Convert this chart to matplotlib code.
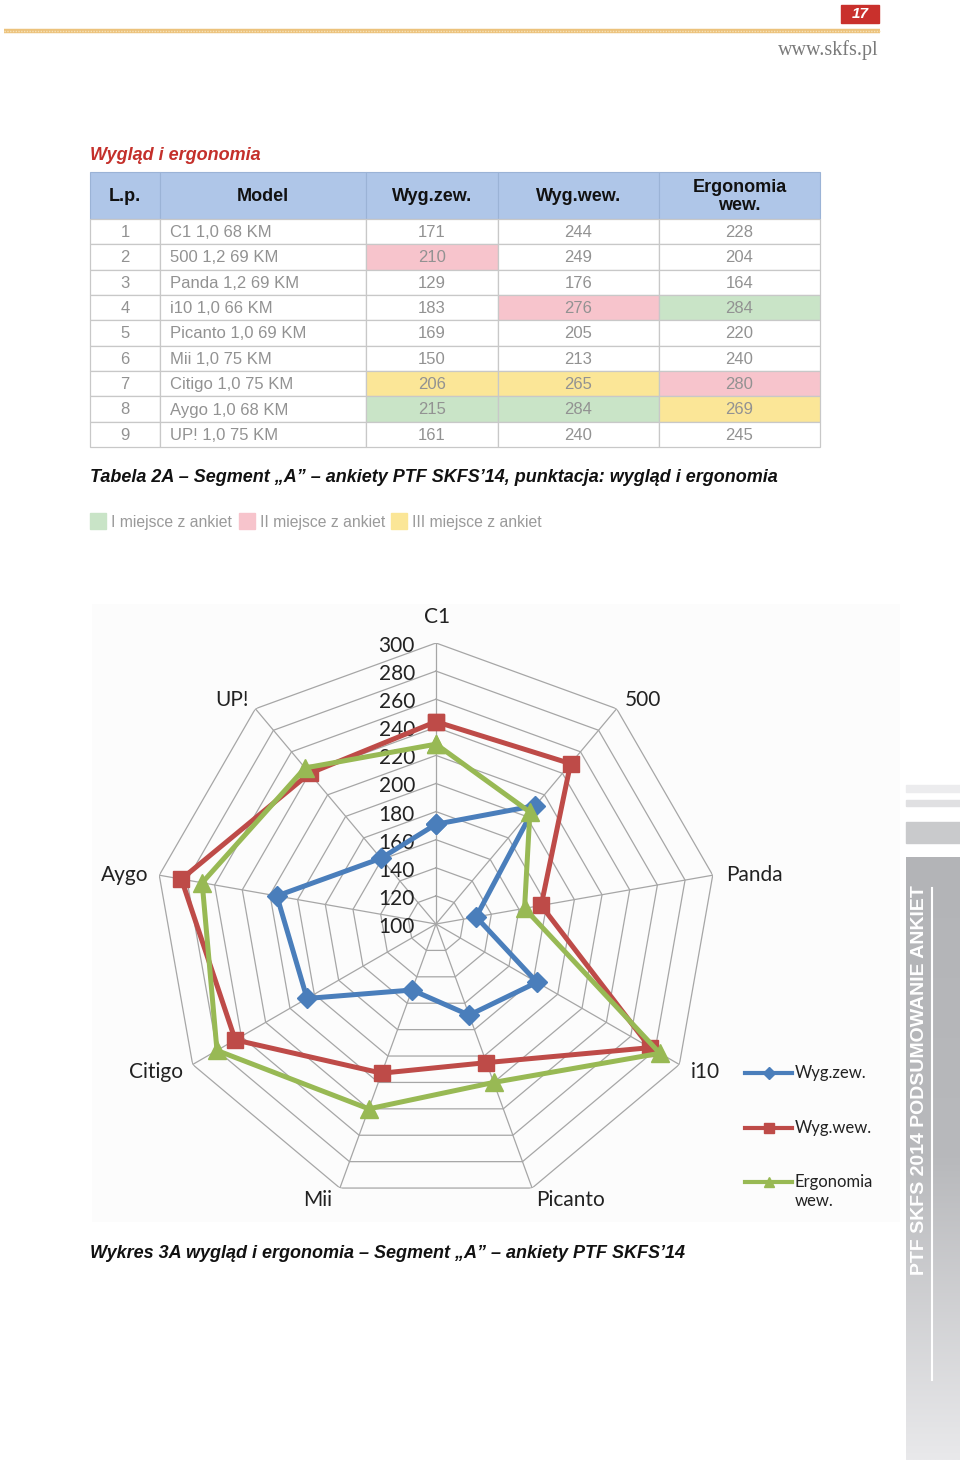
import numpy as np
import matplotlib
matplotlib.use("Agg")
import matplotlib.pyplot as plt
from matplotlib.patches import Rectangle
from matplotlib.colors import LinearSegmentedColormap

# ---------------- data ----------------
lp = [1, 2, 3, 4, 5, 6, 7, 8, 9]
models = ["C1 1,0 68 KM", "500 1,2 69 KM", "Panda 1,2 69 KM", "i10 1,0 66 KM",
          "Picanto 1,0 69 KM", "Mii 1,0 75 KM", "Citigo 1,0 75 KM",
          "Aygo 1,0 68 KM", "UP! 1,0 75 KM"]
categories = ["C1", "500", "Panda", "i10", "Picanto", "Mii", "Citigo", "Aygo", "UP!"]
wyg_zew = [171, 210, 129, 183, 169, 150, 206, 215, 161]
wyg_wew = [244, 249, 176, 276, 205, 213, 265, 284, 240]
ergonomia = [228, 204, 164, 284, 220, 240, 280, 269, 245]
# place highlight per column: g = I, p = II, y = III
hl_zew = ["", "p", "", "", "", "", "y", "g", ""]
hl_wew = ["", "", "", "p", "", "", "y", "g", ""]
hl_erg = ["", "", "", "g", "", "", "p", "y", ""]
headers = ["L.p.", "Model", "Wyg.zew.", "Wyg.wew.", "Ergonomia\nwew."]
series_names = ["Wyg.zew.", "Wyg.wew.", "Ergonomia\nwew."]
r_ticks = [100, 120, 140, 160, 180, 200, 220, 240, 260, 280, 300]

# ---------------- figure ----------------
W, H = 960, 1460
fig = plt.figure(figsize=(W / 100, H / 100), dpi=100)
fig.patch.set_facecolor("white")
pg = fig.add_axes([0, 0, 1, 1])
pg.set_xlim(0, W)
pg.set_ylim(H, 0)
pg.axis("off")

SANS = ["Liberation Sans", "DejaVu Sans"]
CAL = ["Lato", "DejaVu Sans"]

# header
pg.plot([4, 880], [31, 31], color="#ecc27c", lw=3.2, solid_capstyle="butt")
pg.plot([4, 880], [31, 31], color="#f6e2b8", lw=1.0, ls=(0, (1, 1)))
pg.add_patch(Rectangle((841, 5), 38, 18, color="#c9302c"))
pg.text(860, 14.5, "17", color="white", fontsize=11, fontweight="bold",
        fontstyle="italic", ha="center", va="center", family=SANS)
pg.text(879, 50, "www.skfs.pl", color="#7a7a7a", fontsize=14.5,
        ha="right", va="center", family=["Liberation Serif", "DejaVu Serif"])

# section title
pg.text(90, 156, "Wygląd i ergonomia", color="#c4302b", fontsize=13,
        fontweight="bold", fontstyle="italic", ha="left", va="center", family=SANS)

# table
xs = [90, 160, 366, 498, 659, 820]
y_head0, y_head1 = 172, 219
row_h = (447 - 219) / 9
hl_colors = {"g": "#c9e4c7", "p": "#f7c4cc", "y": "#fbe697", "": "white"}
for j in range(5):
    pg.add_patch(Rectangle((xs[j], y_head0), xs[j + 1] - xs[j], y_head1 - y_head0,
                           facecolor="#afc6e8", edgecolor="#9bb3d6", lw=0.8))
    pg.text((xs[j] + xs[j + 1]) / 2, (y_head0 + y_head1) / 2 + 1, headers[j],
            ha="center", va="center", fontsize=13, fontweight="bold",
            color="#111111", family=SANS, linespacing=1.05)
cols_hl = [None, None, hl_zew, hl_wew, hl_erg]
for i in range(9):
    y0 = y_head1 + i * row_h
    vals = [str(lp[i]), models[i], str(wyg_zew[i]), str(wyg_wew[i]), str(ergonomia[i])]
    for j in range(5):
        fc = "white" if cols_hl[j] is None else hl_colors[cols_hl[j][i]]
        pg.add_patch(Rectangle((xs[j], y0), xs[j + 1] - xs[j], row_h,
                               facecolor=fc, edgecolor="#c8c8c8", lw=0.9))
        if j == 1:
            pg.text(xs[j] + 10, y0 + row_h / 2 + 1, vals[j], ha="left", va="center",
                    fontsize=12, color="#929292", family=SANS)
        else:
            pg.text((xs[j] + xs[j + 1]) / 2, y0 + row_h / 2 + 1, vals[j], ha="center",
                    va="center", fontsize=12, color="#929292", family=SANS)

pg.text(90, 478, "Tabela 2A – Segment „A” – ankiety PTF SKFS’14, punktacja: wygląd i ergonomia",
        fontsize=13, fontweight="bold", fontstyle="italic", color="#111111",
        ha="left", va="center", family=SANS)

# color legend row
leg_items = [(90, "#c9e4c7", "I miejsce z ankiet"),
             (239, "#f7c4cc", "II miejsce z ankiet"),
             (391, "#fbe697", "III miejsce z ankiet")]
for x0, c, t in leg_items:
    pg.add_patch(Rectangle((x0, 513), 16, 16, color=c))
    pg.text(x0 + 21, 522, t, fontsize=11.3, color="#9a9a9a", ha="left",
            va="center", family=SANS)

# chart area background
pg.add_patch(Rectangle((92, 604), 808, 618, facecolor="#fcfcfc", edgecolor="none"))

# caption
pg.text(90, 1253, "Wykres 3A wygląd i ergonomia – Segment „A” – ankiety PTF SKFS’14",
        fontsize=13, fontweight="bold", fontstyle="italic", color="#111111",
        ha="left", va="center", family=SANS)

# sidebar
for (ya, yb, c) in [(785, 792, "#ececee"), (800, 806, "#e0e0e2"), (822, 843, "#c9cacc")]:
    pg.add_patch(Rectangle((906, ya), 54, yb - ya, color=c))
grad = np.linspace(0, 1, 256).reshape(-1, 1)
cm = LinearSegmentedColormap.from_list("sb", ["#b3b4b7", "#b8b9bc", "#e9e9eb"])
pg.imshow(grad, extent=(906, 960, 1460, 857), cmap=cm, aspect="auto", zorder=1)
pg.text(920, 1080, "PTF SKFS 2014 PODSUMOWANIE ANKIET", rotation=90, color="white",
        fontsize=14, fontweight="bold", ha="center", va="center", family=SANS, zorder=3)
pg.plot([932, 932], [888, 1380], color="white", lw=1.5, zorder=3)

# ---------------- radar ----------------
cx, cy, R = 436, 924, 281
ax = fig.add_axes([(cx - R) / W, (H - cy - R) / H, 2 * R / W, 2 * R / H], projection="polar")
ax.set_facecolor("none")
ax.set_theta_zero_location("N")
ax.set_theta_direction(-1)
ax.set_ylim(100, 300)
ax.grid(False)
ax.spines["polar"].set_visible(False)
ax.set_xticks([])
ax.set_yticks([])
n = len(categories)
th = np.arange(n) * 2 * np.pi / n
thc = np.concatenate([th, th[:1]])
gc = "#a6a6a6"
for rv in r_ticks[1:]:
    ax.plot(thc, [rv] * (n + 1), color=gc, lw=0.9, zorder=1)
for t in th:
    ax.plot([t, t], [100, 300], color=gc, lw=0.9, zorder=1)
for rv in r_ticks:
    ax.annotate(str(rv), xy=(0, rv), xytext=(-21, -3), textcoords="offset pixels",
                ha="right", va="center", fontsize=15, color="#222222", family=CAL,
                zorder=2)

styles = [(wyg_zew, "#4a7ebb", "D", 10), (wyg_wew, "#be4b48", "s", 11),
          (ergonomia, "#98b954", "^", 12.5)]
for vals, c, m, ms in styles:
    v = list(vals) + [vals[0]]
    ax.plot(thc, v, color=c, lw=3.6, marker=m, markersize=ms, zorder=3,
            clip_on=False)

# category labels
lab_pos = [(437, 617), (643, 700), (754, 875), (705, 1072), (571, 1200),
           (318, 1200), (156, 1072), (125, 875), (232, 700)]
for (x, y), t in zip(lab_pos, categories):
    pg.text(x, y, t, fontsize=15, color="#222222", ha="center", va="center",
            family=CAL, zorder=5)

# series legend
leg_y = [1073, 1128, 1182]
for (vals, c, m, ms), yv, name in zip(styles, leg_y, series_names):
    pg.plot([745, 792], [yv, yv], color=c, lw=3, zorder=5)
    pg.plot([768.5], [yv], color=c, marker=m, markersize=ms * 0.6, zorder=6)
    pg.text(795, yv - 8, name, fontsize=12, color="#222222", ha="left", va="top",
            family=CAL, linespacing=1.25, zorder=5)

fig.savefig("out.png", dpi=100)
